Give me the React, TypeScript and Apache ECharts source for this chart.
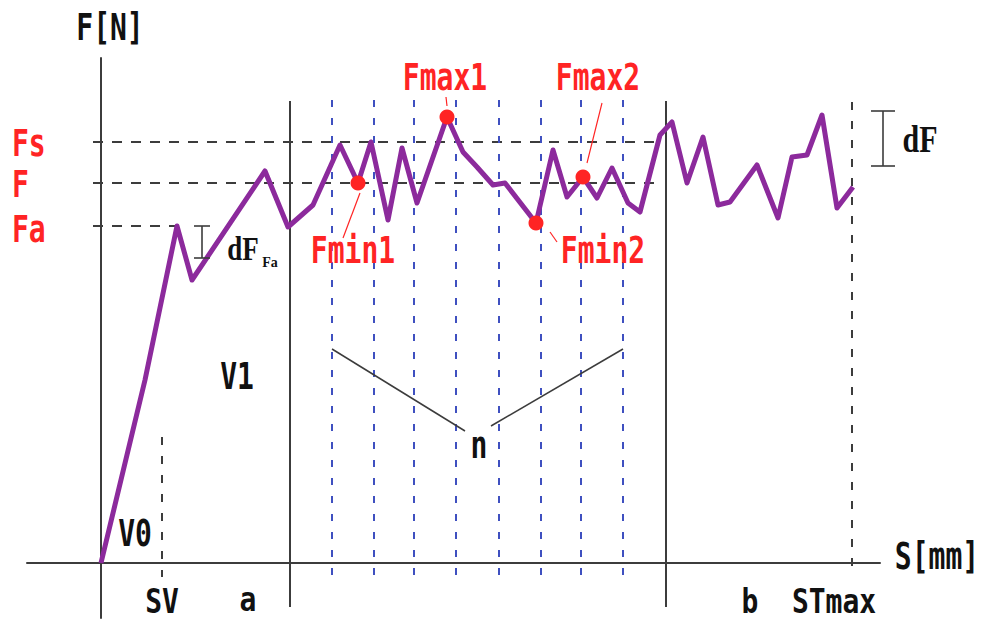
import React, { useEffect, useRef } from "react";
import * as echarts from "echarts";

// Force–travel curve: travel S (scaled units) and force F (scaled units)
const curveS = [0, 4.4, 7.6, 9.1, 16.4, 18.7, 21.2, 23.9, 25.7, 27.0, 28.7, 30.1, 31.6, 34.6, 36.2, 37.6, 39.2, 40.4, 43.5, 45.2, 46.6, 48.2, 49.6, 51.1, 52.7, 53.9, 55.9, 57.1, 58.6, 60.2, 61.7, 62.9, 65.6, 67.7, 69.1, 70.6, 72.1, 73.6, 75.2];
const curveF = [0, 18.3, 33.7, 28.3, 39.2, 33.6, 35.8, 41.8, 38.0, 42.1, 34.3, 41.5, 36.0, 44.6, 41.1, 39.6, 37.8, 38.0, 34.0, 41.3, 36.6, 38.6, 36.5, 39.5, 36.0, 35.1, 42.8, 44.1, 38.0, 42.6, 35.8, 36.1, 39.8, 34.5, 40.6, 40.8, 44.8, 35.5, 37.6];

// Local extrema picked out on the curve (indices into the curve arrays)
const extremaNames = ["Fmin1", "Fmax1", "Fmin2", "Fmax2"];
const extremaIndex = [8, 13, 18, 21];

// Force levels
const levelNames = ["Fs", "F", "Fa"];
const levelValues = [42.1, 38.0, 33.7];

// Travel stations
const stationNames = ["SV", "a", "b", "STmax"];
const stationS = [6.1, 18.9, 56.5, 75.1];

// Evaluation window divisions (n)
const divisionS = [23.1, 27.3, 31.3, 35.5, 39.8, 44.0, 48.0, 52.2];

const PURPLE = "#8c2a9c";
const RED = "#ff2424";
const INK = "#111111";
const GREY = "#3c3c3c";
const BLUE = "#3f50c0";
const MONO = '"DejaVu Sans Mono", monospace';
const SERIF = '"Liberation Serif", "DejaVu Serif", serif';

function monoText(x: number, y: number, text: string, fill = INK, align = "center", scaleY = 1.3) {
  return {
    type: "text",
    x,
    y,
    scaleY,
    z: 100,
    silent: true,
    style: {
      text,
      fill,
      fontFamily: MONO,
      fontWeight: "bold",
      fontSize: 28,
      align,
      verticalAlign: "middle",
    },
  };
}

function thinLine(x1: number, y1: number, x2: number, y2: number, stroke: string, lineWidth = 1.2) {
  return {
    type: "line",
    z: 90,
    silent: true,
    shape: { x1, y1, x2, y2 },
    style: { stroke, lineWidth },
  };
}

function iBar(x: number, yTop: number, yBottom: number, half: number) {
  return [
    thinLine(x, yTop, x, yBottom, GREY, 1.6),
    thinLine(x - half, yTop, x + half, yTop, GREY, 1.6),
    thinLine(x - half, yBottom, x + half, yBottom, GREY, 1.6),
  ];
}

function seg(x1: number, y1: number, x2: number, y2: number, lineStyle: any) {
  return [{ coord: [x1, y1], lineStyle }, { coord: [x2, y2] }];
}

export default function App() {
  const ref = useRef<HTMLDivElement>(null);

  useEffect(() => {
    if (!ref.current) return;
    const chart = echarts.init(ref.current, undefined, { renderer: "svg" });

    const curve = curveS.map((s, i) => [s, curveF[i]]);
    const extrema = extremaIndex.map((idx, i) => ({
      name: extremaNames[i],
      value: [curveS[idx], curveF[idx]],
    }));

    const blackDash = { color: GREY, width: 2, type: [10, 9] };
    const blackDashV = { color: GREY, width: 2, type: [8, 11] };
    const solid = { color: GREY, width: 2, type: "solid" };
    const blueDash = { color: BLUE, width: 2, type: [7, 11] };

    const refLines: any[] = [];
    // horizontal force levels
    levelValues.forEach((f, i) => {
      const end = levelNames[i] === "Fa" ? curveS[2] : 55.9;
      refLines.push(seg(-0.8, f, end, f, blackDash));
    });
    // stations
    stationS.forEach((s, i) => {
      const name = stationNames[i];
      if (name === "SV") refLines.push(seg(s, 12.6, s, -1.4, blackDashV));
      else if (name === "STmax") refLines.push(seg(s, 46.1, s, -1.4, blackDashV));
      else refLines.push(seg(s, 46.2, s, -4.4, solid));
    });
    // division lines
    divisionS.forEach((s) => refLines.push(seg(s, 46.3, s, -1.4, blueDash)));

    const graphic: any[] = [
      monoText(110, 28, "F[N]"),
      monoText(937, 557, "S[mm]"),
      monoText(162, 601, "SV", INK, "center", 1.2),
      monoText(248, 599, "a", INK, "center", 1.2),
      monoText(750, 601, "b", INK, "center", 1.2),
      monoText(834, 601, "STmax", INK, "center", 1.2),
      monoText(237, 377, "V1"),
      monoText(135, 534, "V0"),
      monoText(479, 446, "n"),
      monoText(12, 144, "Fs", RED, "left"),
      monoText(12, 185, "F", RED, "left"),
      monoText(12, 230, "Fa", RED, "left"),
      monoText(445, 78, "Fmax1", RED),
      monoText(598, 78, "Fmax2", RED),
      monoText(353, 251, "Fmin1", RED),
      monoText(603, 251, "Fmin2", RED),
      // leaders to the marked extrema
      thinLine(446, 97, 447, 106, RED),
      thinLine(602, 103, 587, 163, RED),
      thinLine(360, 193, 343, 238, RED),
      thinLine(550, 232, 557, 242, RED),
      // n brackets
      thinLine(332, 349, 465, 431, GREY, 1.5),
      thinLine(491, 426, 623, 349, GREY, 1.5),
      // dF_Fa and dF bars
      ...iBar(202, 226, 258, 8),
      ...iBar(883, 111, 166, 12),
      {
        type: "text",
        x: 243,
        y: 249,
        scaleY: 1.25,
        z: 100,
        silent: true,
        style: { text: "dF", fill: INK, fontFamily: SERIF, fontWeight: "bold", fontSize: 27, align: "center", verticalAlign: "middle" },
      },
      {
        type: "text",
        x: 270,
        y: 262,
        z: 100,
        silent: true,
        style: { text: "Fa", fill: INK, fontFamily: SERIF, fontWeight: "bold", fontSize: 14, align: "center", verticalAlign: "middle" },
      },
      {
        type: "text",
        x: 920,
        y: 139,
        scaleY: 1.25,
        z: 100,
        silent: true,
        style: { text: "dF", fill: INK, fontFamily: SERIF, fontWeight: "bold", fontSize: 30, align: "center", verticalAlign: "middle" },
      },
    ];

    chart.setOption({
      animation: false,
      backgroundColor: "#ffffff",
      grid: { left: 27, right: 110, top: 58, bottom: 6, containLabel: false, outerBoundsMode: "none" },
      xAxis: {
        type: "value",
        min: -7.4,
        max: 77.9,
        axisLine: { show: true, onZero: true, lineStyle: { color: GREY, width: 2 } },
        axisTick: { show: false },
        axisLabel: { show: false },
        splitLine: { show: false },
      },
      yAxis: {
        type: "value",
        min: -5.5,
        max: 50.5,
        axisLine: { show: true, onZero: true, lineStyle: { color: GREY, width: 2 } },
        axisTick: { show: false },
        axisLabel: { show: false },
        splitLine: { show: false },
      },
      series: [
        {
          name: "reference",
          type: "line",
          data: [],
          z: 1,
          silent: true,
          markLine: {
            silent: true,
            symbol: ["none", "none"],
            label: { show: false },
            emphasis: { disabled: true },
            data: refLines,
          },
        },
        {
          name: "F(S)",
          type: "line",
          data: curve,
          z: 5,
          showSymbol: false,
          symbol: "none",
          lineStyle: { color: PURPLE, width: 5, join: "round" },
        },
        {
          name: "extrema",
          type: "scatter",
          data: extrema,
          z: 6,
          symbol: "circle",
          symbolSize: 15,
          itemStyle: { color: RED, opacity: 1 },
        },
      ],
      graphic,
    });

    return () => chart.dispose();
  }, []);

  return (
    <div
      ref={ref}
      style={{ position: "fixed", left: 0, top: 0, width: 990, height: 624, background: "#fff" }}
    />
  );
}
